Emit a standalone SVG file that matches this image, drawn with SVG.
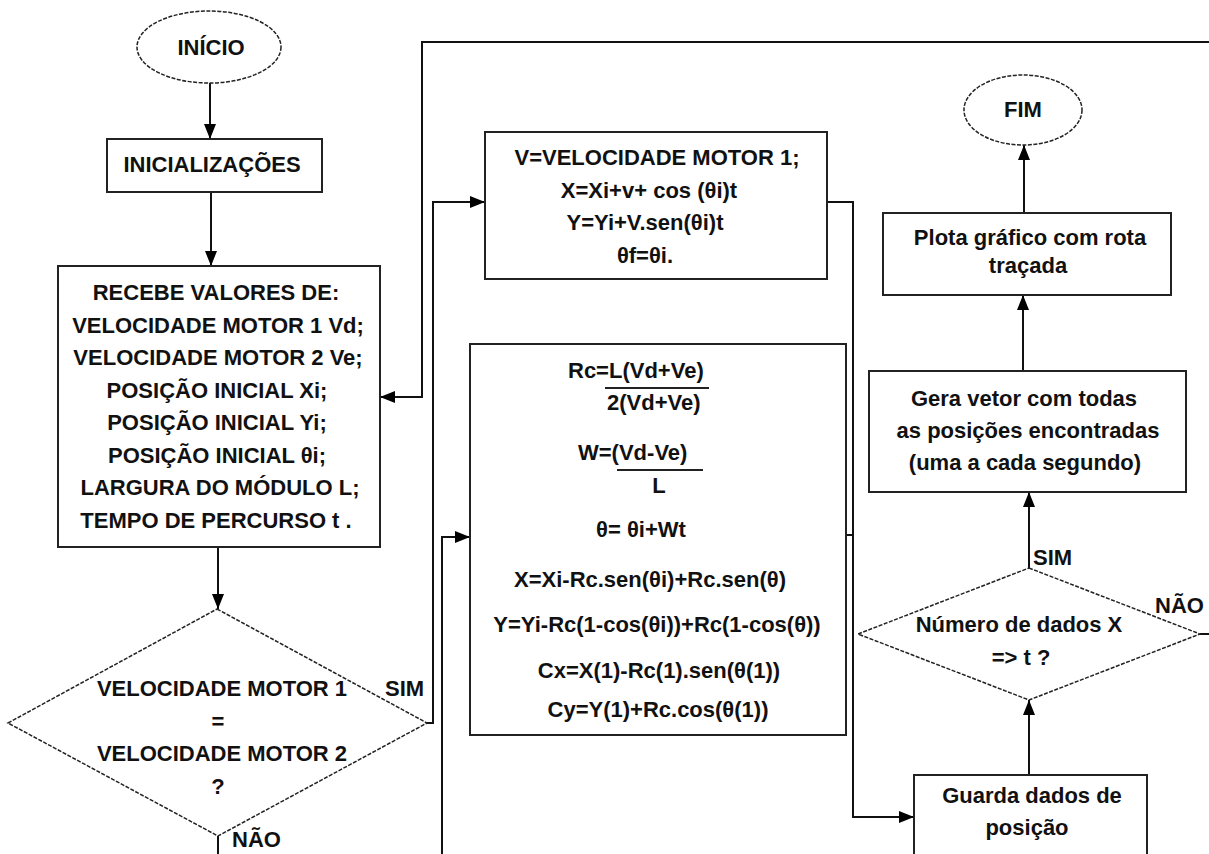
<svg xmlns="http://www.w3.org/2000/svg" width="1209" height="854" viewBox="0 0 1209 854">
<style>
text{font-family:"Liberation Sans",Arial,sans-serif;font-weight:bold;font-size:22px;fill:#111;}
.c{text-anchor:middle;}
.box{fill:#fff;stroke:#222;stroke-width:2;}
.term{fill:#fff;stroke:#222;stroke-width:1.5;stroke-dasharray:4 1.5;}
.ln{fill:none;stroke:#111;stroke-width:2;}
.fr{stroke:#222;stroke-width:2;}
</style>
<defs>
<marker id="ah" viewBox="0 0 15 12" refX="15" refY="6" markerWidth="15" markerHeight="12" markerUnits="userSpaceOnUse" orient="auto"><path d="M0,0 L15,6 L0,12 z" fill="#000"/></marker>
</defs>
<rect width="1209" height="854" fill="#fff"/>
<g id="connectors">
<path class="ln" d="M210,83 V139" marker-end="url(#ah)"/>
<path class="ln" d="M211,192 V266" marker-end="url(#ah)"/>
<path class="ln" d="M218,547 V609" marker-end="url(#ah)"/>
<path class="ln" d="M1209,42 H422 V397 H380" marker-end="url(#ah)"/>
<path class="ln" d="M427,723 H433 V202 H485" marker-end="url(#ah)"/>
<path class="ln" d="M442,860 V537 H470" marker-end="url(#ah)"/>
<path class="ln" d="M827,202 H853 V817 H914" marker-end="url(#ah)"/>
<path class="ln" d="M846,535 H853"/>
<path class="ln" d="M218,836 V860"/>
<path class="ln" d="M1200,634 H1215"/>
<path class="ln" d="M1029,775 V700" marker-end="url(#ah)"/>
<path class="ln" d="M1029,568 V492" marker-end="url(#ah)"/>
<path class="ln" d="M1023,371 V295" marker-end="url(#ah)"/>
<path class="ln" d="M1024,213 V145" marker-end="url(#ah)"/>
</g>
<g id="inicio">
<ellipse class="term" cx="209" cy="47" rx="72" ry="36"/>
<text class="c" x="211" y="55">INÍCIO</text>
</g>
<g id="inicializacoes">
<rect class="box" x="107" y="139" width="215" height="53"/>
<text class="c" x="212" y="172">INICIALIZAÇÕES</text>
</g>
<g id="recebe">
<rect class="box" x="58" y="266" width="322" height="281"/>
<text class="c" x="216" y="300">RECEBE VALORES DE:</text>
<text class="c" x="218" y="332.5">VELOCIDADE MOTOR 1 Vd;</text>
<text class="c" x="218" y="365">VELOCIDADE MOTOR 2 Ve;</text>
<text class="c" x="217" y="397.5">POSIÇÃO INICIAL Xi;</text>
<text class="c" x="217" y="430">POSIÇÃO INICIAL Yi;</text>
<text class="c" x="217" y="462.5">POSIÇÃO INICIAL θi;</text>
<text class="c" x="220" y="495">LARGURA DO MÓDULO L;</text>
<text class="c" x="216" y="527.5">TEMPO DE PERCURSO t .</text>
</g>
<g id="decisao1">
<polygon class="term" points="217,609 427,723 218,836 8,723"/>
<text class="c" x="222" y="696">VELOCIDADE MOTOR 1</text>
<text class="c" x="218" y="728.5">=</text>
<text class="c" x="222" y="761">VELOCIDADE MOTOR 2</text>
<text class="c" x="218" y="793.5">?</text>
<text x="385" y="696">SIM</text>
<text x="232" y="847">NÃO</text>
</g>
<g id="reta">
<rect class="box" x="485" y="132" width="342" height="147"/>
<text class="c" x="657" y="165">V=VELOCIDADE MOTOR 1;</text>
<text class="c" x="649" y="197.5">X=Xi+v+ cos (θi)t</text>
<text class="c" x="645" y="230">Y=Yi+V.sen(θi)t</text>
<text class="c" x="645" y="262.5">θf=θi.</text>
</g>
<g id="curva">
<rect class="box" x="470" y="344" width="376" height="391"/>
<text x="568" y="378">Rc=L(Vd+Ve)</text>
<line class="fr" x1="605" y1="388" x2="709" y2="388"/>
<text x="607" y="410">2(Vd+Ve)</text>
<text x="578" y="460">W=(Vd-Ve)</text>
<line class="fr" x1="617" y1="470" x2="703" y2="470"/>
<text class="c" x="659" y="493">L</text>
<text class="c" x="641" y="537">θ= θi+Wt</text>
<text class="c" x="650" y="587">X=Xi-Rc.sen(θi)+Rc.sen(θ)</text>
<text class="c" x="657" y="632">Y=Yi-Rc(1-cos(θi))+Rc(1-cos(θ))</text>
<text class="c" x="659" y="678">Cx=X(1)-Rc(1).sen(θ(1))</text>
<text class="c" x="658" y="717">Cy=Y(1)+Rc.cos(θ(1))</text>
</g>
<g id="fim">
<ellipse class="term" cx="1023" cy="110" rx="59" ry="35"/>
<text class="c" x="1023" y="117">FIM</text>
</g>
<g id="plota">
<rect class="box" x="883" y="213" width="288" height="82"/>
<text class="c" x="1030" y="245">Plota gráfico com rota</text>
<text class="c" x="1028" y="273">traçada</text>
</g>
<g id="gera">
<rect class="box" x="869" y="371" width="317" height="121"/>
<text class="c" x="1024" y="406">Gera vetor com todas</text>
<text class="c" x="1028" y="438">as posições encontradas</text>
<text class="c" x="1025" y="470">(uma a cada segundo)</text>
</g>
<g id="decisao2">
<polygon class="term" points="1029,568 1200,634 1029,700 858,634"/>
<text class="c" x="1019" y="632">Número de dados X</text>
<text class="c" x="1021" y="665">=&gt; t ?</text>
<text x="1033" y="565">SIM</text>
<text x="1155" y="613">NÃO</text>
</g>
<g id="guarda">
<rect class="box" x="914" y="775" width="233" height="100"/>
<text class="c" x="1032" y="803">Guarda dados de</text>
<text class="c" x="1027" y="835">posição</text>
</g>
</svg>
